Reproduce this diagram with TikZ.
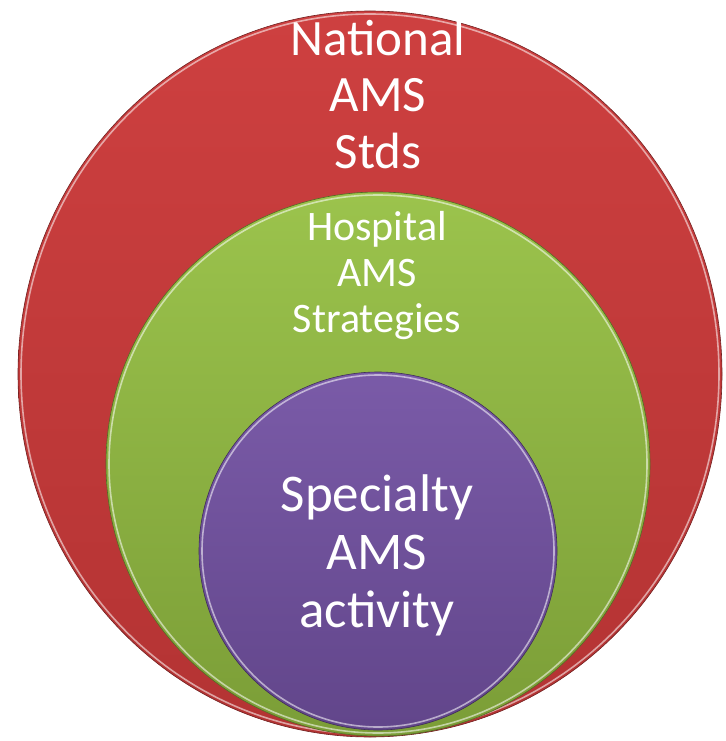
\documentclass[tikz,border=0pt]{standalone}
\usepackage{fontspec}
\setmainfont{Carlito}
\usetikzlibrary{positioning}

\definecolor{natred}{HTML}{CC3A3A}
\definecolor{hospgreen}{HTML}{96C043}
\definecolor{specpurple}{HTML}{7352A3}

\tikzset{
  rim/.style={draw=white, draw opacity=0.55, line width=1.6pt},
  edge/.style={draw=#1!55!black, line width=0.6pt},
  lbl/.style={text=white, align=center, inner sep=0pt}
}

\begin{document}
\begin{tikzpicture}[x=1pt,y=-1pt]
\useasboundingbox (0,0) rectangle (725,741);

% outer ring
\shade[top color=natred!97!white, bottom color=natred!88!black]
  (370,374) ellipse [x radius=352, y radius=363];
\draw[edge=natred] (370,374) ellipse [x radius=352, y radius=363];
\draw[rim] (370,374) ellipse [x radius=349, y radius=360];

% middle ring
\shade[top color=hospgreen!95!white, bottom color=hospgreen!82!black]
  (378,464) circle [radius=272];
\draw[edge=hospgreen] (378,464) circle [radius=272];
\draw[rim] (378,464) circle [radius=269];

% inner ring
\shade[top color=specpurple!95!white, bottom color=specpurple!85!black]
  (378,551) circle [radius=179];
\draw[edge=specpurple] (378,551) circle [radius=179];
\draw[rim] (378,551) circle [radius=176];

\node[lbl, font=\fontsize{51}{56.5}\selectfont] (national) at (378,94)
  {National\\AMS\\Stds};
\node[lbl, font=\fontsize{42}{46}\selectfont] (hospital) at (377,276)
  {Hospital\\AMS\\Strategies};
\node[lbl, font=\fontsize{53}{58}\selectfont] (specialty) at (377,555)
  {Specialty\\AMS\\activity};
\end{tikzpicture}
\end{document}
